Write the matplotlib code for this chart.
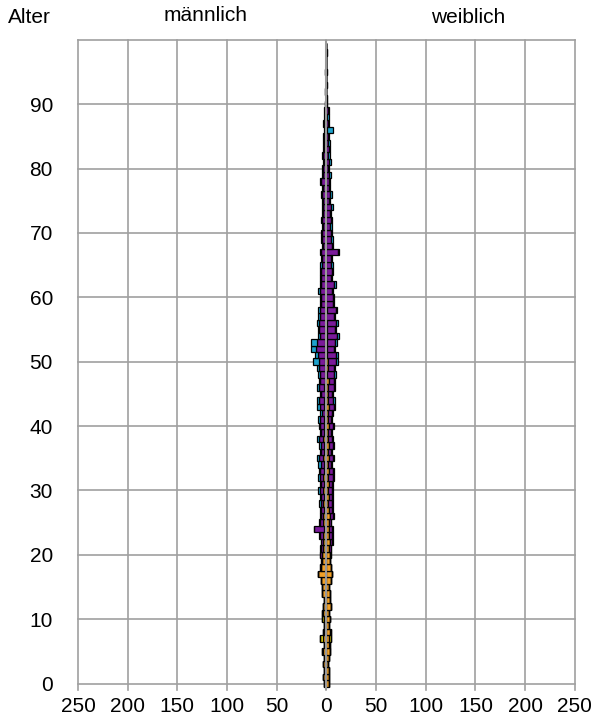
import numpy as np
import matplotlib.pyplot as plt

plt.rcParams['font.family'] = ['Liberation Sans', 'DejaVu Sans']

# ages 0..99
ages = np.arange(100)

# Männer (werte nach links)
m_orange = [2,3,2,3,2,3,2,3,2,2,
            2,3,3,2,4,4,5,8,5,4,
            4,3,3,3,2,3,3,2,3,2,
            3,2,3,2,2,3,2,2,3,2,
            2,2,1,2,2,1,2,1,1,1,
            1,1,1,1,0,1,0,1,0,0,
            0,0,0,1,0,0,0,0,0,0,
            0,0,0,0,0,0,0,0,0,0,
            0,0,0,0,0,0,0,0,0,0,
            0,0,0,0,0,0,0,0,0,0]
m_yellow = [0,0,0,0,0,1,0,3,1,0,
            2,1,0,0,0,0,0,0,0,0] + [0]*80
m_purple = [0]*18 + [1,1,
            2,2,2,3,10,3,2,3,2,3,
            3,3,3,4,3,4,3,3,4,3,
            4,4,3,4,5,4,5,5,5,6,
            6,7,9,8,6,6,7,5,6,5,
            5,6,5,4,5,4,4,5,3,4,
            4,3,4,3,3,3,4,3,5,3,
            3,2,3,2,2,2,1,2,1,1,
            1,0,1,0,0,1,0,0,0,0]
m_blue = [0]*20 + [0,1,0,1,0,1,1,1,2,1,
          2,1,2,1,3,2,1,2,2,1,
          1,2,2,3,2,1,2,1,2,2,
          6,3,6,6,2,1,2,2,2,1,
          1,2,1,1,1,2,1,1,1,1,
          1,1,1,1,1,1,1,1,1,1,
          1,1,1,1,1,1,1,1,1,1,
          0,0,0,0,0,0,0,0,0,0]

# Frauen (werte nach rechts)
f_orange = [3,3,3,2,3,4,3,3,4,3,
            4,3,5,4,4,3,5,6,5,4,
            4,3,4,3,3,3,4,3,2,3,
            2,3,2,3,2,3,2,3,2,2,
            3,2,2,3,2,2,2,3,1,2,
            2,1,1,1,1,1,1,0,1,0] + [0]*40
f_yellow = [0,0,0,0,0,0,1,2,1,0] + [0]*90
f_purple = [0]*20 + [1,2,2,3,3,2,3,3,4,3,
            4,3,5,4,3,4,3,4,4,3,
            4,3,4,5,5,4,6,5,7,6,
            8,9,7,8,10,8,9,8,9,7,
            7,6,8,5,6,5,5,12,6,5,
            5,4,5,4,5,3,4,3,3,3,
            2,3,2,3,2,2,1,2,1,2,
            1,1,0,1,0,1,0,0,1,0]
f_blue = [0]*20 + [0,0,1,1,1,0,1,1,1,1,
          1,1,1,1,1,1,1,1,1,1,
          1,1,1,1,2,1,1,1,2,1,
          2,2,1,2,2,1,2,1,1,1,
          1,1,2,1,1,2,1,1,1,2,
          1,2,1,1,2,1,2,1,1,2,
          1,2,2,1,2,1,6,1,2,1,
          0,0,0,0,0,0,0,0,0,0]

colors = ['#F0A028', '#E8DA10', '#7A1A9A', '#1EA2CC']

fig = plt.figure(figsize=(6, 7.24), dpi=100)
ax = fig.add_axes([0.13, 0.047, 0.828, 0.898])

# gestapelte balken
left_m = np.zeros(100)
for vals, c in zip([m_orange, m_yellow, m_purple, m_blue], colors):
    v = np.array(vals, dtype=float)
    ax.barh(ages, -v, left=-left_m, height=1.0, color=c, edgecolor='black', linewidth=0.9, zorder=3)
    left_m += v
left_f = np.zeros(100)
for vals, c in zip([f_orange, f_yellow, f_purple, f_blue], colors):
    v = np.array(vals, dtype=float)
    ax.barh(ages, v, left=left_f, height=1.0, color=c, edgecolor='black', linewidth=0.9, zorder=3)
    left_f += v

ax.axvline(0, color='#999999', linewidth=1.5, zorder=4)

ax.set_xlim(-250, 250)
ax.set_ylim(-1, 100)
ax.set_xticks(np.arange(-250, 251, 50))
ax.set_xticklabels([str(abs(t)) for t in range(-250, 251, 50)])
ax.set_yticks(np.arange(0, 101, 10))
ax.set_yticklabels([str(t) for t in range(0, 91, 10)] + [''])
ax.tick_params(length=0, labelsize=15)
ax.tick_params(axis='y', pad=18)
ax.tick_params(axis='x', pad=5)
ax.grid(True, color='#a0a0a0', linewidth=1.2, zorder=0)
for ln in ax.get_xgridlines() + ax.get_ygridlines():
    ln.set_clip_on(False)
for s in ax.spines.values():
    s.set_visible(False)

fig.text(0.014, 0.976, 'Alter', fontsize=15, va='center')
fig.text(0.343, 0.979, 'männlich', fontsize=15, va='center', ha='center')
fig.text(0.78, 0.976, 'weiblich', fontsize=15, va='center', ha='center')

fig.savefig('out.png', dpi=100)
